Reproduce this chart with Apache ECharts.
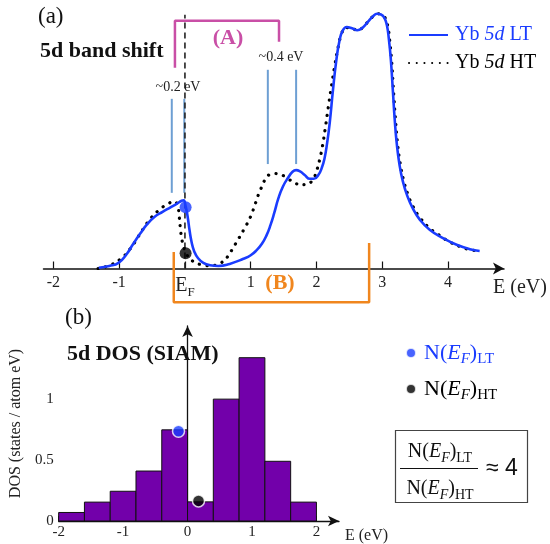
<!DOCTYPE html>
<html><head><meta charset="utf-8">
<script src="https://cdn.jsdelivr.net/npm/echarts@6/dist/echarts.min.js"></script>
<style>html,body{margin:0;padding:0;background:#fff}#c{width:550px;height:544px}</style>
</head><body><div id="c"></div>
<script>
// ---------- Panel (a): Yb 5d spectra ----------
const energyLT = [-1.31,-1.15,-1.01,-0.89,-0.79,-0.68,-0.58,-0.46,-0.34,-0.22,-0.12,-0.05,-0.02,0.01,0.04,0.07,0.10,0.14,0.20,0.28,0.38,0.51,0.68,0.89,1.00,1.09,1.17,1.24,1.30,1.36,1.42,1.49,1.57,1.64,1.69,1.75,1.82,1.90,1.96,2.03,2.08,2.12,2.16,2.20,2.25,2.30,2.35,2.40,2.46,2.54,2.62,2.70,2.78,2.86,2.92,2.98,3.03,3.07,3.10,3.13,3.16,3.19,3.22,3.26,3.31,3.38,3.46,3.57,3.72,3.93,4.13,4.33,4.48];
const intensityLT = [0.003,0.010,0.022,0.055,0.095,0.137,0.172,0.203,0.222,0.240,0.255,0.266,0.268,0.245,0.205,0.150,0.105,0.068,0.040,0.022,0.013,0.010,0.018,0.038,0.052,0.072,0.097,0.130,0.170,0.220,0.275,0.322,0.357,0.381,0.386,0.381,0.367,0.352,0.352,0.368,0.395,0.430,0.490,0.570,0.700,0.815,0.895,0.935,0.948,0.943,0.935,0.945,0.968,0.990,1.000,0.997,0.985,0.955,0.900,0.820,0.700,0.580,0.490,0.410,0.345,0.285,0.238,0.192,0.152,0.118,0.093,0.076,0.069];
const energyHT = [-1.32,-1.17,-0.99,-0.83,-0.71,-0.61,-0.51,-0.38,-0.25,-0.17,-0.12,-0.10,-0.085,-0.07,-0.05,-0.02,0.02,0.08,0.15,0.23,0.33,0.43,0.53,0.61,0.67,0.73,0.79,0.85,0.90,0.95,1.00,1.04,1.08,1.12,1.17,1.22,1.28,1.35,1.42,1.50,1.58,1.67,1.76,1.85,1.92,1.97,2.01,2.05,2.09,2.13,2.18,2.23,2.28,2.33,2.38,2.44,2.54,2.62,2.70,2.78,2.86,2.92,2.98,3.04,3.08,3.11,3.14,3.17,3.20,3.23,3.27,3.32,3.39,3.47,3.58,3.72,3.86,4.00,4.18,4.33,4.48];
const intensityHT = [0.000,0.010,0.035,0.078,0.125,0.165,0.200,0.232,0.255,0.262,0.255,0.235,0.200,0.160,0.120,0.085,0.058,0.038,0.024,0.016,0.011,0.012,0.020,0.035,0.055,0.080,0.106,0.132,0.155,0.178,0.205,0.232,0.262,0.292,0.322,0.350,0.368,0.373,0.371,0.364,0.350,0.336,0.329,0.330,0.340,0.360,0.390,0.430,0.480,0.545,0.635,0.720,0.800,0.870,0.920,0.945,0.943,0.935,0.945,0.968,0.990,1.000,0.997,0.985,0.955,0.900,0.820,0.700,0.585,0.495,0.415,0.350,0.290,0.242,0.197,0.158,0.132,0.108,0.086,0.074,0.068];
const efPointLT_a = [0.01, 0.24];
const efPointHT_a = [0.01, 0.06];
const ticksA = [-2, -1, 0, 1, 2, 3, 4];

// ---------- Panel (b): 5d DOS (SIAM) histogram ----------
const binEdges = [-2.0, -1.6, -1.2, -0.8, -0.4, 0.0, 0.4, 0.8, 1.2, 1.6, 2.0];
const dosValues = [0.07, 0.155, 0.244, 0.41, 0.748, 0.157, 1.0, 1.34, 0.49, 0.155];
const efPointLT_b = [-0.14, 0.737];
const efPointHT_b = [0.17, 0.165];
const ticksB = [-2, -1, 0, 1, 2];
const dosTicks = [0, 0.5, 1];

const SERIF = '"Liberation Serif", "Times New Roman", serif';
const BLUE = '#1a3cff';
const PINK = '#c94fa6';
const ORANGE = '#f0861e';
const LIGHTBLUE = '#6d9fd3';
const PURPLE = '#7200aa';

const zip = (a, b) => a.map((v, i) => [v, b[i]]);
const bars = dosValues.map((v, i) => [binEdges[i], binEdges[i + 1], v]);

const chart = echarts.init(document.getElementById('c'), null, {renderer: 'canvas'});

const subRich = (c) => ({
  ['n' + c]: {fontFamily: SERIF, fontSize: 22, lineHeight: 28, color: c === 'L' ? BLUE : '#000'},
  ['e' + c]: {fontFamily: SERIF, fontSize: 22, lineHeight: 28, fontStyle: 'italic', color: c === 'L' ? BLUE : '#000'},
  ['f' + c]: {fontFamily: SERIF, fontSize: 15, lineHeight: 18, fontStyle: 'italic', verticalAlign: 'bottom', color: c === 'L' ? BLUE : '#000'},
  ['s' + c]: {fontFamily: SERIF, fontSize: 15, lineHeight: 18, verticalAlign: 'bottom', color: c === 'L' ? BLUE : '#000'}
});
const fracRich = {
  n: {fontFamily: SERIF, fontSize: 20, lineHeight: 26, fill: '#111'},
  e: {fontFamily: SERIF, fontSize: 20, lineHeight: 26, fontStyle: 'italic', fill: '#111'},
  f: {fontFamily: SERIF, fontSize: 14, lineHeight: 16, fontStyle: 'italic', verticalAlign: 'bottom', fill: '#111'},
  s: {fontFamily: SERIF, fontSize: 14, lineHeight: 16, verticalAlign: 'bottom', fill: '#111'}
};

const option = {
  animation: false,
  backgroundColor: '#fff',
  grid: [
    {left: 43.5, right: 46, top: 1, bottom: 275.5, containLabel: false},
    {left: 53, right: 211, top: 326, bottom: 21, containLabel: false}
  ],
  xAxis: [
    {
      gridIndex: 0, type: 'value', min: -2.15, max: 4.85,
      axisLine: {show: true, onZero: false, lineStyle: {color: '#111', width: 1.5}, symbol: ['none', 'arrow'], symbolSize: [9, 11]},
      axisTick: {show: true, inside: true, length: 7, customValues: ticksA, lineStyle: {color: '#111', width: 1.2}},
      axisLabel: {
        show: true, customValues: ticksA, margin: 6, color: '#222', fontFamily: SERIF, fontSize: 16,
        formatter: v => v === 0 ? '{e|E}{f|F}' : String(v),
        rich: {
          e: {fontFamily: SERIF, fontSize: 20, lineHeight: 22, color: '#222'},
          f: {fontFamily: SERIF, fontSize: 13, lineHeight: 14, verticalAlign: 'bottom', color: '#222', padding: [0, 0, -3, 0]}
        }
      },
      splitLine: {show: false},
      name: 'E (eV)', nameLocation: 'end', nameGap: -11,
      nameTextStyle: {fontFamily: SERIF, fontSize: 20, color: '#222', align: 'left', verticalAlign: 'top', lineHeight: 20, padding: [9, 0, 0, 0]}
    },
    {
      gridIndex: 1, type: 'value', min: -2, max: 2.35,
      axisLine: {show: true, onZero: false, lineStyle: {color: '#111', width: 1.3}, symbol: ['none', 'arrow'], symbolSize: [8, 11]},
      axisTick: {show: true, inside: true, length: 5, customValues: ticksB, lineStyle: {color: '#111', width: 1}},
      axisLabel: {show: true, customValues: ticksB, margin: 4, color: '#222', fontFamily: SERIF, fontSize: 15, formatter: v => String(v)},
      splitLine: {show: false},
      name: 'E (eV)', nameLocation: 'end', nameGap: 6,
      nameTextStyle: {fontFamily: SERIF, fontSize: 16, color: '#222', align: 'left', verticalAlign: 'top', lineHeight: 16, padding: [7, 0, 0, 0]}
    }
  ],
  yAxis: [
    {gridIndex: 0, type: 'value', min: 0, max: 1.05, show: false},
    {
      gridIndex: 1, type: 'value', min: 0, max: 1.6,
      axisLine: {show: true, lineStyle: {color: '#111', width: 1.3}, symbol: ['none', 'arrow'], symbolSize: [8, 11]},
      axisTick: {show: false},
      axisLabel: {show: true, customValues: dosTicks, margin: 5, color: '#222', fontFamily: SERIF, fontSize: 15, formatter: v => String(v)},
      splitLine: {show: false},
      name: 'DOS (states / atom eV)', nameLocation: 'middle', nameGap: 31, nameRotate: 90,
      nameTextStyle: {fontFamily: SERIF, fontSize: 16, color: '#222'}
    }
  ],
  legend: [
    {
      left: 408, top: 23, padding: 0, orient: 'vertical', itemWidth: 39, itemHeight: 14, itemGap: 4,
      itemStyle: {color: 'rgba(0,0,0,0)', borderWidth: 0, opacity: 0},
      data: ['Yb 5d LT', 'Yb 5d HT'],
      formatter: name => name.endsWith('LT') ? '{gL|}{tL|Yb }{iL|5d}{tL| LT}' : '{gH|}{tH|Yb }{iH|5d}{tH| HT}',
      textStyle: {
        lineHeight: 24,
        rich: {
          gL: {width: 2}, gH: {width: 2},
          tL: {fontFamily: SERIF, fontSize: 20, lineHeight: 24, color: BLUE},
          iL: {fontFamily: SERIF, fontSize: 20, lineHeight: 24, color: BLUE, fontStyle: 'italic'},
          tH: {fontFamily: SERIF, fontSize: 20, lineHeight: 24, color: '#000'},
          iH: {fontFamily: SERIF, fontSize: 20, lineHeight: 24, color: '#000', fontStyle: 'italic'}
        }
      }
    },
    {
      left: 405, top: 339, padding: 0, orient: 'vertical', itemWidth: 10, itemHeight: 10, itemGap: 8,
      icon: 'circle',
      data: ['N(EF)LT', 'N(EF)HT'],
      formatter: name => name.endsWith('LT') ? '{gL|}{nL|N(}{eL|E}{fL|F}{nL|)}{sL|LT}' : '{gH|}{nH|N(}{eH|E}{fH|F}{nH|)}{sH|HT}',
      textStyle: {
        lineHeight: 28,
        rich: Object.assign({gL: {width: 3}, gH: {width: 3}}, subRich('L'), subRich('H'))
      }
    }
  ],
  graphic: [
    {type: 'text', left: 38, top: 5, style: {text: '(a)', font: '23px ' + SERIF, fill: '#111'}},
    {type: 'text', left: 40, top: 40, style: {text: '5d band shift', font: 'bold 22px ' + SERIF, fill: '#111'}},
    {type: 'text', x: 228, y: 38, style: {text: '(A)', font: 'bold 22px ' + SERIF, fill: PINK, align: 'center', verticalAlign: 'middle'}},
    {type: 'text', x: 178, y: 87, style: {text: '~0.2 eV', font: '14px ' + SERIF, fill: '#222', align: 'center', verticalAlign: 'middle'}},
    {type: 'text', x: 281, y: 57, style: {text: '~0.4 eV', font: '14px ' + SERIF, fill: '#222', align: 'center', verticalAlign: 'middle'}},
    {type: 'text', x: 280, y: 283, style: {text: '(B)', font: 'bold 22px ' + SERIF, fill: ORANGE, align: 'center', verticalAlign: 'middle'}},
    {type: 'text', left: 65, top: 306, style: {text: '(b)', font: '23px ' + SERIF, fill: '#111'}},
    {type: 'text', left: 67, top: 343, style: {text: '5d DOS (SIAM)', font: 'bold 22px ' + SERIF, fill: '#111'}},
    {type: 'rect', shape: {x: 395.5, y: 430.5, width: 132, height: 72}, style: {fill: 'none', stroke: '#444', lineWidth: 1.2}},
    {type: 'text', x: 440, y: 452, style: {text: '{n|N(}{e|E}{f|F}{n|)}{s|LT}', align: 'center', verticalAlign: 'middle', rich: fracRich}},
    {type: 'line', shape: {x1: 400, y1: 468.5, x2: 478, y2: 468.5}, style: {stroke: '#111', lineWidth: 1.2}},
    {type: 'text', x: 440, y: 489, style: {text: '{n|N(}{e|E}{f|F}{n|)}{s|HT}', align: 'center', verticalAlign: 'middle', rich: fracRich}},
    {type: 'text', x: 486, y: 469, style: {text: '\u2248 4', font: '23px "Liberation Sans", Arial, sans-serif', fill: '#111', align: 'left', verticalAlign: 'middle'}}
  ],
  series: [
    {
      type: 'custom', xAxisIndex: 0, yAxisIndex: 0, silent: true, z: 1,
      data: [[-0.2, 0.297, 0.666], [-0.01, 0.297, 0.666], [1.26, 0.41, 0.78], [1.69, 0.41, 0.78]],
      renderItem: (params, api) => {
        const p1 = api.coord([api.value(0), api.value(1)]);
        const p2 = api.coord([api.value(0), api.value(2)]);
        return {type: 'line', shape: {x1: p1[0], y1: p1[1], x2: p2[0], y2: p2[1]}, style: {stroke: LIGHTBLUE, lineWidth: 2}};
      }
    },
    {
      type: 'line', xAxisIndex: 0, yAxisIndex: 0, silent: true, z: 2, symbol: 'none',
      data: [[0, 0], [0, 0.996]],
      lineStyle: {color: '#222', width: 1.6, type: [6, 4]}
    },
    {
      type: 'line', xAxisIndex: 0, yAxisIndex: 0, silent: true, z: 2, symbol: 'none', clip: false,
      data: [[-0.152, 0.788], [-0.152, 0.972], [1.43, 0.972], [1.43, 0.89]],
      lineStyle: {color: PINK, width: 2.5}
    },
    {
      type: 'line', xAxisIndex: 0, yAxisIndex: 0, silent: true, z: 2, symbol: 'none', clip: false,
      data: [[-0.17, 0.065], [-0.17, -0.132], [2.8, -0.132], [2.8, 0.10]],
      lineStyle: {color: ORANGE, width: 2.5}
    },
    {
      name: 'Yb 5d HT', type: 'line', xAxisIndex: 0, yAxisIndex: 0, z: 3,
      symbol: 'none', smooth: 0.5,
      data: zip(energyHT, intensityHT),
      itemStyle: {color: '#000'},
      lineStyle: {color: '#000', width: 3.2, type: [0.1, 7.6], cap: 'round'}
    },
    {
      name: 'Yb 5d LT', type: 'line', xAxisIndex: 0, yAxisIndex: 0, z: 4,
      symbol: 'none', smooth: 0.5,
      data: zip(energyLT, intensityLT),
      itemStyle: {color: BLUE},
      lineStyle: {color: BLUE, width: 2.6}
    },
    {
      type: 'scatter', xAxisIndex: 0, yAxisIndex: 0, z: 5, symbolSize: 12,
      data: [
        {value: efPointLT_a, itemStyle: {color: BLUE}},
        {value: efPointHT_a, itemStyle: {color: '#000'}}
      ]
    },
    {
      type: 'custom', xAxisIndex: 1, yAxisIndex: 1, z: 2,
      data: bars,
      encode: {x: [0, 1], y: 2},
      renderItem: (params, api) => {
        const a = api.coord([api.value(0), api.value(2)]);
        const b = api.coord([api.value(1), 0]);
        return {type: 'rect', shape: {x: a[0], y: a[1], width: b[0] - a[0], height: b[1] - a[1]},
          style: {fill: PURPLE, stroke: '#111', lineWidth: 1}};
      }
    },
    {
      name: 'N(EF)LT', type: 'scatter', xAxisIndex: 1, yAxisIndex: 1, z: 5, symbolSize: 12,
      data: [efPointLT_b], itemStyle: {color: BLUE, borderColor: '#fff', borderWidth: 1.5}
    },
    {
      name: 'N(EF)HT', type: 'scatter', xAxisIndex: 1, yAxisIndex: 1, z: 5, symbolSize: 12,
      data: [efPointHT_b], itemStyle: {color: '#000', borderColor: '#fff', borderWidth: 1.5}
    }
  ]
};
chart.setOption(option);
</script>
</body></html>
